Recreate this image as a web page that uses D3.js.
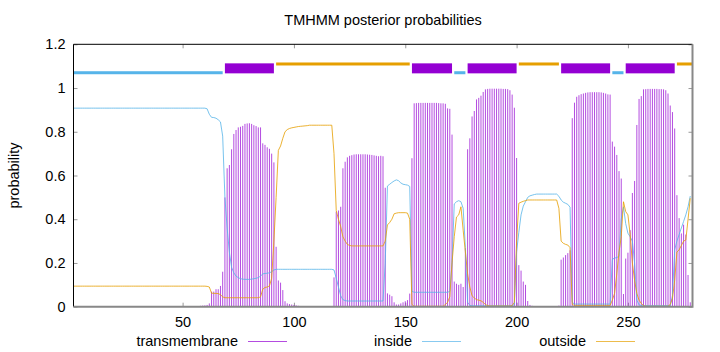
<!DOCTYPE html>
<html>
<head>
<meta charset="utf-8">
<script src="https://cdn.jsdelivr.net/npm/d3@7"></script>
<style>
  body { margin: 0; background: #fff; }
  text { font-family: "Liberation Sans", Arial, sans-serif; fill: #000; }
</style>
</head>
<body>
<div id="chart"></div>
<script>
// posterior probabilities per residue, position = index + 1
const transmembrane = [
  0,0,0,0,0,0,0,0,0,0,
  0,0,0,0,0,0,0,0,0,0,
  0,0,0,0,0,0,0,0,0,0,
  0,0,0,0,0,0,0,0,0,0,
  0,0,0,0,0,0,0,0,0,0,
  0,0,0,0,0,0,0.003,0.004,0.005,0.006,
  0.008,0.015,0.069,0.069,0.08,0.08,0.095,0.16,0.5,0.633,
  0.648,0.72,0.79,0.808,0.82,0.823,0.827,0.836,0.838,0.839,
  0.836,0.83,0.826,0.82,0.82,0.747,0.74,0.729,0.722,0.7,
  0.66,0.274,0.12,0.11,0.076,0.025,0.015,0.012,0.01,0.008,
  0.006,0.004,0.003,0.002,0.002,0.001,0,0,0,0,
  0,0,0,0,0,0,0,0.134,0.435,0.44,
  0.457,0.633,0.663,0.683,0.69,0.693,0.696,0.697,0.697,0.697,
  0.697,0.697,0.696,0.695,0.694,0.692,0.69,0.688,0.69,0.688,
  0.544,0.061,0.055,0.048,0.02,0.01,0.01,0.015,0.02,0.025,
  0.03,0.06,0.679,0.93,0.931,0.932,0.932,0.932,0.932,0.932,
  0.932,0.932,0.932,0.932,0.931,0.93,0.93,0.928,0.907,0.905,
  0.787,0.115,0.105,0.1,0.105,0.09,0.267,0.72,0.77,0.87,
  0.895,0.948,0.955,0.965,0.982,0.994,0.996,0.997,0.997,0.997,
  0.997,0.997,0.997,0.996,0.996,0.995,0.99,0.97,0.91,0.68,
  0.19,0.165,0.115,0.1,0.026,0.008,0.004,0.002,0,0,
  0,0,0,0,0,0,0,0,0.005,0.215,
  0.225,0.236,0.245,0.258,0.862,0.933,0.96,0.967,0.972,0.975,
  0.978,0.98,0.981,0.981,0.981,0.981,0.981,0.98,0.978,0.975,
  0.971,0.97,0.755,0.732,0.694,0.62,0.586,0.058,0.22,0.247,
  0.35,0.52,0.575,0.831,0.95,0.963,0.994,0.995,0.996,0.996,
  0.996,0.996,0.996,0.995,0.995,0.994,0.99,0.975,0.92,0.89,
  0.815,0.51,0.405,0.335,0.375,0.33,0.145,0.02
];

const inside = [
  0.908,0.908,0.908,0.908,0.908,0.908,0.908,0.908,0.908,0.908,
  0.908,0.908,0.908,0.908,0.908,0.908,0.908,0.908,0.908,0.908,
  0.908,0.908,0.908,0.908,0.908,0.908,0.908,0.908,0.908,0.908,
  0.908,0.908,0.908,0.908,0.908,0.908,0.908,0.908,0.908,0.908,
  0.908,0.908,0.908,0.908,0.908,0.908,0.908,0.908,0.908,0.908,
  0.908,0.908,0.908,0.908,0.908,0.908,0.908,0.908,0.908,0.908,
  0.905,0.88,0.866,0.865,0.862,0.855,0.845,0.78,0.5,0.36,
  0.25,0.18,0.155,0.14,0.133,0.128,0.126,0.125,0.125,0.125,
  0.126,0.128,0.13,0.133,0.14,0.15,0.152,0.153,0.155,0.16,
  0.168,0.171,0.171,0.171,0.171,0.171,0.171,0.171,0.171,0.171,
  0.171,0.171,0.171,0.171,0.171,0.171,0.171,0.171,0.171,0.171,
  0.171,0.171,0.171,0.171,0.171,0.171,0.171,0.168,0.13,0.09,
  0.05,0.032,0.028,0.026,0.026,0.026,0.026,0.026,0.026,0.026,
  0.026,0.026,0.026,0.026,0.026,0.026,0.026,0.026,0.026,0.026,
  0.2,0.552,0.56,0.568,0.575,0.58,0.576,0.566,0.56,0.558,
  0.556,0.55,0.07,0.066,0.066,0.066,0.066,0.066,0.066,0.066,
  0.066,0.066,0.066,0.066,0.066,0.066,0.066,0.066,0.066,0.07,
  0.2,0.47,0.48,0.485,0.48,0.45,0.27,0.02,0.006,0.004,
  0.004,0.004,0.004,0.004,0.004,0.004,0.004,0.004,0.004,0.004,
  0.004,0.004,0.004,0.004,0.004,0.004,0.004,0.004,0.01,0.25,
  0.34,0.42,0.46,0.48,0.5,0.507,0.51,0.513,0.515,0.515,
  0.515,0.515,0.515,0.515,0.515,0.515,0.515,0.515,0.505,0.488,
  0.478,0.473,0.468,0.455,0.02,0.012,0.012,0.012,0.012,0.012,
  0.012,0.012,0.012,0.012,0.012,0.012,0.012,0.012,0.012,0.012,
  0.012,0.012,0.217,0.222,0.225,0.23,0.4,0.457,0.38,0.336,
  0.32,0.3,0.2,0.03,0.008,0.005,0.005,0.005,0.005,0.005,
  0.005,0.005,0.005,0.005,0.005,0.005,0.005,0.005,0.005,0.05,
  0.26,0.3,0.33,0.36,0.39,0.42,0.457,0.506
];

const outside = [
  0.094,0.094,0.094,0.094,0.094,0.094,0.094,0.094,0.094,0.094,
  0.094,0.094,0.094,0.094,0.094,0.094,0.094,0.094,0.094,0.094,
  0.094,0.094,0.094,0.094,0.094,0.094,0.094,0.094,0.094,0.094,
  0.094,0.094,0.094,0.094,0.094,0.094,0.094,0.094,0.094,0.094,
  0.094,0.094,0.094,0.094,0.094,0.094,0.094,0.094,0.094,0.094,
  0.094,0.094,0.094,0.094,0.094,0.094,0.094,0.094,0.094,0.094,
  0.093,0.09,0.062,0.061,0.061,0.06,0.055,0.045,0.041,0.041,
  0.041,0.041,0.041,0.041,0.041,0.041,0.041,0.041,0.041,0.041,
  0.041,0.041,0.041,0.041,0.045,0.08,0.088,0.09,0.095,0.13,
  0.3,0.5,0.715,0.735,0.77,0.8,0.81,0.815,0.818,0.82,
  0.822,0.824,0.825,0.826,0.827,0.828,0.83,0.83,0.83,0.83,
  0.83,0.83,0.83,0.83,0.83,0.83,0.83,0.7,0.44,0.4,
  0.366,0.32,0.3,0.285,0.28,0.278,0.278,0.278,0.278,0.278,
  0.278,0.278,0.278,0.278,0.278,0.278,0.278,0.278,0.278,0.278,
  0.3,0.374,0.385,0.4,0.425,0.428,0.43,0.43,0.43,0.43,
  0.428,0.4,0.01,0.002,0.002,0.002,0.002,0.002,0.002,0.002,
  0.002,0.002,0.002,0.002,0.002,0.002,0.002,0.01,0.02,0.046,
  0.2,0.32,0.41,0.42,0.457,0.35,0.25,0.15,0.09,0.05,
  0.04,0.032,0.03,0.027,0.02,0.01,0.005,0.003,0.003,0.003,
  0.003,0.003,0.003,0.003,0.003,0.003,0.003,0.005,0.02,0.3,
  0.473,0.478,0.482,0.485,0.488,0.488,0.488,0.488,0.488,0.488,
  0.488,0.488,0.488,0.488,0.488,0.488,0.488,0.488,0.45,0.3,
  0.29,0.285,0.282,0.27,0.01,0.006,0.006,0.006,0.006,0.006,
  0.006,0.006,0.006,0.006,0.006,0.006,0.006,0.006,0.006,0.006,
  0.006,0.006,0.03,0.061,0.15,0.25,0.32,0.48,0.435,0.42,
  0.33,0.2,0.12,0.061,0.03,0.015,0.005,0.002,0.002,0.002,
  0.002,0.002,0.002,0.002,0.002,0.002,0.002,0.002,0.01,0.038,
  0.12,0.25,0.26,0.28,0.3,0.305,0.4,0.496
];

// predicted topology drawn above the curves
const topoStart = [1, 69, 92, 153, 172, 178, 201, 220, 243, 249, 272];
const topoEnd = [68, 91, 152, 171, 177, 200, 219, 242, 248, 271, 279];
const topoType = ["inside", "TMhelix", "outside", "TMhelix", "inside", "TMhelix",
                  "outside", "TMhelix", "inside", "TMhelix", "outside"];
const topoLevel = { inside: 1.07, TMhelix: 1.09, outside: 1.11 };

const xTicks = [50, 100, 150, 200, 250];
const yTicks = [0, 0.2, 0.4, 0.6, 0.8, 1, 1.2];
const seriesNames = ["transmembrane", "inside", "outside"];

const colors = { transmembrane: "#9400d3", inside: "#56b4e9", outside: "#e69f00" };
colors.TMhelix = colors.transmembrane;

const width = 720;
const height = 352;
const margin = { top: 44.3, right: 27.5, bottom: 45.3, left: 73.5 };

const svg = d3.select("#chart")
  .append("svg")
  .attr("width", width)
  .attr("height", height);

const x = d3.scaleLinear()
  .domain([1, 279])
  .range([margin.left, width - margin.right]);

const y = d3.scaleLinear()
  .domain([0, 1.2])
  .range([height - margin.bottom, margin.top]);

// title and axis label
svg.append("text")
  .attr("x", (margin.left + width - margin.right) / 2)
  .attr("y", 25)
  .attr("text-anchor", "middle")
  .style("font-size", "14.5px")
  .text("TMHMM posterior probabilities");

svg.append("text")
  .attr("transform", `translate(19,${(margin.top + height - margin.bottom) / 2}) rotate(-90)`)
  .attr("text-anchor", "middle")
  .style("font-size", "14.5px")
  .text("probability");

// axes, ticks point inward like gnuplot
const yAxis = svg.append("g")
  .attr("transform", `translate(${margin.left},0)`)
  .call(d3.axisLeft(y).tickValues(yTicks).tickFormat(d => String(d)).tickSize(-4).tickPadding(8));

const yAxisRight = svg.append("g")
  .attr("transform", `translate(${width - margin.right},0)`)
  .call(d3.axisRight(y).tickValues(yTicks).tickFormat("").tickSize(-4));

const xAxis = svg.append("g")
  .attr("transform", `translate(0,${height - margin.bottom})`)
  .call(d3.axisBottom(x).tickValues(xTicks).tickSize(-4).tickPadding(10));

const xAxisTop = svg.append("g")
  .attr("transform", `translate(0,${margin.top})`)
  .call(d3.axisTop(x).tickValues(xTicks).tickFormat("").tickSize(-4));

[yAxis, yAxisRight, xAxis, xAxisTop].forEach(g => {
  g.select(".domain").remove();
  g.selectAll(".tick line").attr("stroke", "#999");
  g.selectAll(".tick text")
    .style("font-size", "14.5px")
    .style("font-family", "'Liberation Sans', Arial, sans-serif")
    .attr("fill", "#000");
});

// transmembrane impulses
const points = transmembrane.map((v, i) => ({ pos: i + 1, tm: v, inside: inside[i], outside: outside[i] }));

svg.append("g")
  .selectAll("line")
  .data(points.filter(d => d.tm > 0))
  .enter()
  .append("line")
  .attr("x1", d => x(d.pos))
  .attr("x2", d => x(d.pos))
  .attr("y1", y(0))
  .attr("y2", d => y(d.tm))
  .attr("stroke", colors.transmembrane)
  .attr("stroke-opacity", 0.7)
  .attr("stroke-width", 1);

// inside / outside curves
["inside", "outside"].forEach(key => {
  const line = d3.line()
    .x(d => x(d.pos))
    .y(d => y(d[key]));
  svg.append("path")
    .datum(points)
    .attr("d", line)
    .attr("fill", "none")
    .attr("stroke", colors[key])
    .attr("stroke-opacity", 0.8)
    .attr("stroke-width", 1);
});

// topology bar at the top
const topo = topoStart.map((s, i) => ({ start: s, end: topoEnd[i], type: topoType[i] }));

svg.append("g")
  .selectAll("rect")
  .data(topo)
  .enter()
  .append("rect")
  .attr("x", d => x(d.start))
  .attr("width", d => x(d.end) - x(d.start))
  .attr("y", d => y(topoLevel[d.type]) - (d.type === "TMhelix" ? 5 : 1.5))
  .attr("height", d => (d.type === "TMhelix" ? 10 : 3))
  .attr("fill", d => colors[d.type]);

// border
svg.append("path")
  .attr("d", `M${x(1)},${y(0)}V${y(1.2)}H${x(279)}`)
  .attr("fill", "none")
  .attr("stroke", "#000")
  .attr("stroke-width", 1);

svg.append("path")
  .attr("d", `M${x(1)},${y(0)}H${x(279)}V${y(1.2)}`)
  .attr("fill", "none")
  .attr("stroke", "#888")
  .attr("stroke-width", 2);

// legend
const legendEnds = [238, 412, 586];
const legend = svg.append("g");
seriesNames.forEach((name, i) => {
  legend.append("text")
    .attr("x", legendEnds[i])
    .attr("y", 346)
    .attr("text-anchor", "end")
    .style("font-size", "14.5px")
    .text(name);
  legend.append("line")
    .attr("x1", legendEnds[i] + 10)
    .attr("x2", legendEnds[i] + 49)
    .attr("y1", 341.5)
    .attr("y2", 341.5)
    .attr("stroke", colors[name])
    .attr("stroke-opacity", 0.7)
    .attr("stroke-width", 1);
});
</script>
</body>
</html>
